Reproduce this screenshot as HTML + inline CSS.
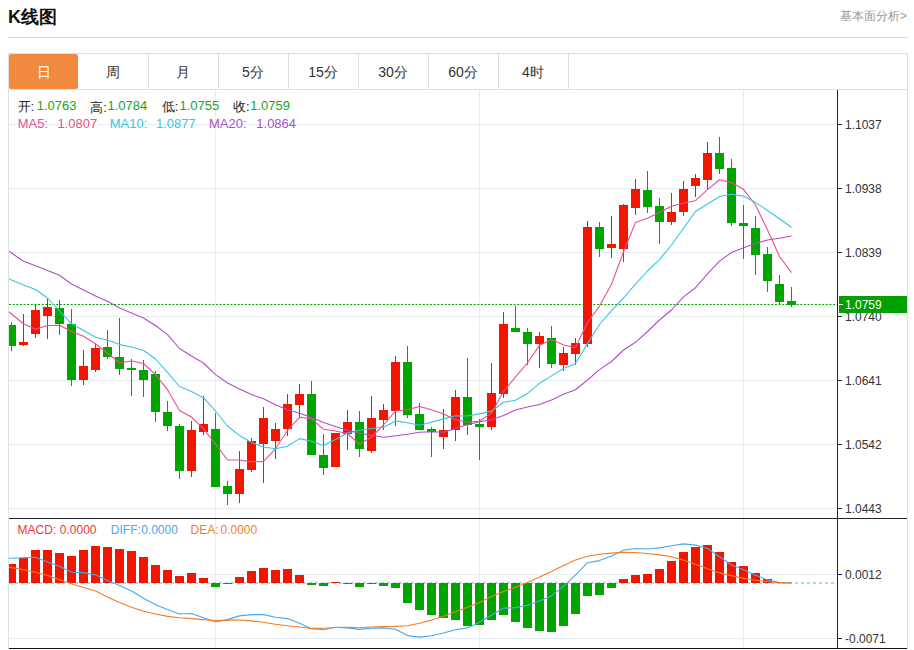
<!DOCTYPE html>
<html><head><meta charset="utf-8"><style>
html,body{margin:0;padding:0;background:#fff;}
body{width:914px;height:650px;position:relative;overflow:hidden;font-family:"Liberation Sans",sans-serif;}
.title{position:absolute;left:8px;top:5px;font-size:18px;font-weight:bold;color:#111;line-height:24px;}
.more{position:absolute;right:7px;top:7px;font-size:12px;color:#999;line-height:18px;}
.sep{position:absolute;left:8px;top:37px;width:900px;height:1px;background:#d9d9d9;}
.box{position:absolute;left:8px;top:53px;width:898px;height:595px;border:1px solid #e0e0e0;border-bottom:none;box-sizing:content-box;}
.tabs{position:absolute;left:8px;top:53px;height:36px;width:900px;border-bottom:1px solid #e0e0e0;}
.tab{position:absolute;top:0;width:71px;height:36px;line-height:38px;text-align:center;font-size:14px;color:#333;border-right:1px solid #e0e0e0;box-sizing:border-box;}
.tab.on{background:#f18a3f;color:#fff;border-radius:2px;top:1px;left:1px;height:35px;width:69px;border:none;line-height:36px;}
.ax{font-family:"Liberation Sans",sans-serif;font-size:12px;fill:#333;}
.lg{position:absolute;line-height:1;white-space:nowrap;}
</style></head><body>
<div class="title">K线图</div>
<div class="more">基本面分析&gt;</div>
<div class="sep"></div>
<div class="box"></div>
<svg width="914" height="650" style="position:absolute;left:0;top:0"><defs><clipPath id="clipMain"><rect x="9" y="90" width="828" height="558"/></clipPath></defs><rect x="9" y="124" width="828" height="1" fill="#e4ecf4"/><rect x="9" y="188" width="828" height="1" fill="#e4ecf4"/><rect x="9" y="252" width="828" height="1" fill="#e4ecf4"/><rect x="9" y="316" width="828" height="1" fill="#e4ecf4"/><rect x="9" y="380" width="828" height="1" fill="#e4ecf4"/><rect x="9" y="444" width="828" height="1" fill="#e4ecf4"/><rect x="9" y="508" width="828" height="1" fill="#e4ecf4"/><rect x="9" y="574" width="828" height="1" fill="#e4ecf4"/><rect x="9" y="638" width="828" height="1" fill="#e4ecf4"/><rect x="215" y="90" width="1" height="558" fill="#e4ecf4"/><rect x="479" y="90" width="1" height="558" fill="#e4ecf4"/><rect x="743" y="90" width="1" height="558" fill="#e4ecf4"/><line x1="9" y1="304.5" x2="837" y2="304.5" stroke="#00a000" stroke-width="1" stroke-dasharray="2,1.63"/><line x1="9" y1="583" x2="837" y2="583" stroke="#a8d8f0" stroke-width="2" stroke-dasharray="3,3"/><g shape-rendering="crispEdges" clip-path="url(#clipMain)"><rect x="11" y="322" width="1" height="29" fill="#00a500"/><rect x="7" y="325" width="9" height="21" fill="#00a500"/><rect x="23" y="314" width="1" height="32" fill="#f11600"/><rect x="19" y="342" width="9" height="3" fill="#f11600"/><rect x="35" y="304" width="1" height="34" fill="#f11600"/><rect x="31" y="310" width="9" height="24" fill="#f11600"/><rect x="47" y="299" width="1" height="40" fill="#f11600"/><rect x="43" y="307" width="9" height="9" fill="#f11600"/><rect x="59" y="300" width="1" height="35" fill="#00a500"/><rect x="55" y="308" width="9" height="16" fill="#00a500"/><rect x="71" y="309" width="1" height="77" fill="#00a500"/><rect x="67" y="324" width="9" height="56" fill="#00a500"/><rect x="83" y="350" width="1" height="35" fill="#f11600"/><rect x="79" y="366" width="9" height="14" fill="#f11600"/><rect x="95" y="343" width="1" height="29" fill="#f11600"/><rect x="91" y="348" width="9" height="22" fill="#f11600"/><rect x="107" y="330" width="1" height="29" fill="#00a500"/><rect x="103" y="347" width="9" height="10" fill="#00a500"/><rect x="119" y="318" width="1" height="57" fill="#00a500"/><rect x="115" y="357" width="9" height="12" fill="#00a500"/><rect x="131" y="359" width="1" height="37" fill="#00a500"/><rect x="127" y="368" width="9" height="2" fill="#00a500"/><rect x="143" y="360" width="1" height="37" fill="#00a500"/><rect x="139" y="370" width="9" height="10" fill="#00a500"/><rect x="155" y="371" width="1" height="51" fill="#00a500"/><rect x="151" y="374" width="9" height="38" fill="#00a500"/><rect x="167" y="401" width="1" height="30" fill="#00a500"/><rect x="163" y="412" width="9" height="14" fill="#00a500"/><rect x="179" y="424" width="1" height="55" fill="#00a500"/><rect x="175" y="426" width="9" height="45" fill="#00a500"/><rect x="191" y="421" width="1" height="56" fill="#f11600"/><rect x="187" y="430" width="9" height="41" fill="#f11600"/><rect x="203" y="396" width="1" height="39" fill="#f11600"/><rect x="199" y="424" width="9" height="8" fill="#f11600"/><rect x="215" y="413" width="1" height="74" fill="#00a500"/><rect x="211" y="429" width="9" height="58" fill="#00a500"/><rect x="227" y="481" width="1" height="24" fill="#00a500"/><rect x="223" y="486" width="9" height="8" fill="#00a500"/><rect x="239" y="451" width="1" height="52" fill="#f11600"/><rect x="235" y="469" width="9" height="25" fill="#f11600"/><rect x="251" y="438" width="1" height="34" fill="#f11600"/><rect x="247" y="441" width="9" height="29" fill="#f11600"/><rect x="263" y="407" width="1" height="76" fill="#f11600"/><rect x="259" y="418" width="9" height="26" fill="#f11600"/><rect x="275" y="423" width="1" height="36" fill="#f11600"/><rect x="271" y="429" width="9" height="12" fill="#f11600"/><rect x="287" y="394" width="1" height="42" fill="#f11600"/><rect x="283" y="404" width="9" height="25" fill="#f11600"/><rect x="299" y="384" width="1" height="33" fill="#f11600"/><rect x="295" y="394" width="9" height="11" fill="#f11600"/><rect x="311" y="381" width="1" height="74" fill="#00a500"/><rect x="307" y="394" width="9" height="61" fill="#00a500"/><rect x="323" y="434" width="1" height="41" fill="#00a500"/><rect x="319" y="455" width="9" height="13" fill="#00a500"/><rect x="335" y="433" width="1" height="34" fill="#f11600"/><rect x="331" y="433" width="9" height="34" fill="#f11600"/><rect x="347" y="410" width="1" height="40" fill="#f11600"/><rect x="343" y="422" width="9" height="12" fill="#f11600"/><rect x="359" y="411" width="1" height="46" fill="#00a500"/><rect x="355" y="422" width="9" height="27" fill="#00a500"/><rect x="371" y="396" width="1" height="57" fill="#f11600"/><rect x="367" y="418" width="9" height="33" fill="#f11600"/><rect x="383" y="404" width="1" height="26" fill="#f11600"/><rect x="379" y="410" width="9" height="10" fill="#f11600"/><rect x="395" y="356" width="1" height="70" fill="#f11600"/><rect x="391" y="362" width="9" height="49" fill="#f11600"/><rect x="407" y="346" width="1" height="72" fill="#00a500"/><rect x="403" y="362" width="9" height="53" fill="#00a500"/><rect x="419" y="403" width="1" height="27" fill="#00a500"/><rect x="415" y="414" width="9" height="16" fill="#00a500"/><rect x="431" y="427" width="1" height="30" fill="#00a500"/><rect x="427" y="429" width="9" height="3" fill="#00a500"/><rect x="443" y="409" width="1" height="40" fill="#f11600"/><rect x="439" y="430" width="9" height="7" fill="#f11600"/><rect x="455" y="390" width="1" height="51" fill="#f11600"/><rect x="451" y="397" width="9" height="33" fill="#f11600"/><rect x="467" y="358" width="1" height="77" fill="#00a500"/><rect x="463" y="397" width="9" height="28" fill="#00a500"/><rect x="479" y="419" width="1" height="41" fill="#00a500"/><rect x="475" y="424" width="9" height="3" fill="#00a500"/><rect x="491" y="363" width="1" height="67" fill="#f11600"/><rect x="487" y="393" width="9" height="34" fill="#f11600"/><rect x="503" y="312" width="1" height="86" fill="#f11600"/><rect x="499" y="324" width="9" height="70" fill="#f11600"/><rect x="515" y="306" width="1" height="26" fill="#00a500"/><rect x="511" y="328" width="9" height="4" fill="#00a500"/><rect x="527" y="328" width="1" height="37" fill="#00a500"/><rect x="523" y="332" width="9" height="12" fill="#00a500"/><rect x="539" y="332" width="1" height="36" fill="#f11600"/><rect x="535" y="336" width="9" height="8" fill="#f11600"/><rect x="551" y="326" width="1" height="42" fill="#00a500"/><rect x="547" y="338" width="9" height="26" fill="#00a500"/><rect x="563" y="347" width="1" height="24" fill="#f11600"/><rect x="559" y="353" width="9" height="12" fill="#f11600"/><rect x="575" y="338" width="1" height="27" fill="#f11600"/><rect x="571" y="343" width="9" height="11" fill="#f11600"/><rect x="587" y="221" width="1" height="126" fill="#f11600"/><rect x="583" y="227" width="9" height="117" fill="#f11600"/><rect x="599" y="222" width="1" height="35" fill="#00a500"/><rect x="595" y="227" width="9" height="22" fill="#00a500"/><rect x="611" y="216" width="1" height="42" fill="#f11600"/><rect x="607" y="244" width="9" height="4" fill="#f11600"/><rect x="623" y="204" width="1" height="58" fill="#f11600"/><rect x="619" y="205" width="9" height="44" fill="#f11600"/><rect x="635" y="179" width="1" height="36" fill="#f11600"/><rect x="631" y="189" width="9" height="19" fill="#f11600"/><rect x="647" y="171" width="1" height="42" fill="#00a500"/><rect x="643" y="190" width="9" height="17" fill="#00a500"/><rect x="659" y="198" width="1" height="46" fill="#00a500"/><rect x="655" y="206" width="9" height="16" fill="#00a500"/><rect x="671" y="193" width="1" height="32" fill="#f11600"/><rect x="667" y="212" width="9" height="10" fill="#f11600"/><rect x="683" y="181" width="1" height="35" fill="#f11600"/><rect x="679" y="189" width="9" height="23" fill="#f11600"/><rect x="695" y="174" width="1" height="23" fill="#f11600"/><rect x="691" y="178" width="9" height="8" fill="#f11600"/><rect x="707" y="142" width="1" height="48" fill="#f11600"/><rect x="703" y="153" width="9" height="27" fill="#f11600"/><rect x="719" y="137" width="1" height="37" fill="#00a500"/><rect x="715" y="153" width="9" height="16" fill="#00a500"/><rect x="731" y="159" width="1" height="67" fill="#00a500"/><rect x="727" y="168" width="9" height="55" fill="#00a500"/><rect x="743" y="205" width="1" height="54" fill="#00a500"/><rect x="739" y="223" width="9" height="3" fill="#00a500"/><rect x="755" y="216" width="1" height="59" fill="#00a500"/><rect x="751" y="228" width="9" height="27" fill="#00a500"/><rect x="767" y="247" width="1" height="45" fill="#00a500"/><rect x="763" y="254" width="9" height="27" fill="#00a500"/><rect x="779" y="275" width="1" height="29" fill="#00a500"/><rect x="775" y="284" width="9" height="18" fill="#00a500"/><rect x="791" y="287" width="1" height="20" fill="#00a500"/><rect x="787" y="301" width="9" height="4" fill="#00a500"/></g><g shape-rendering="crispEdges" clip-path="url(#clipMain)"><rect x="7" y="564" width="9" height="19" fill="#f11600"/><rect x="19" y="558" width="9" height="25" fill="#f11600"/><rect x="31" y="550" width="9" height="33" fill="#f11600"/><rect x="43" y="550" width="9" height="33" fill="#f11600"/><rect x="55" y="553" width="9" height="30" fill="#f11600"/><rect x="67" y="556" width="9" height="27" fill="#f11600"/><rect x="79" y="550" width="9" height="33" fill="#f11600"/><rect x="91" y="546" width="9" height="37" fill="#f11600"/><rect x="103" y="547" width="9" height="36" fill="#f11600"/><rect x="115" y="549" width="9" height="34" fill="#f11600"/><rect x="127" y="551" width="9" height="32" fill="#f11600"/><rect x="139" y="557" width="9" height="26" fill="#f11600"/><rect x="151" y="565" width="9" height="18" fill="#f11600"/><rect x="163" y="570" width="9" height="13" fill="#f11600"/><rect x="175" y="576" width="9" height="7" fill="#f11600"/><rect x="187" y="573" width="9" height="10" fill="#f11600"/><rect x="199" y="578" width="9" height="5" fill="#f11600"/><rect x="211" y="583" width="9" height="4" fill="#00a500"/><rect x="223" y="583" width="9" height="1" fill="#00a500"/><rect x="235" y="577" width="9" height="6" fill="#f11600"/><rect x="247" y="571" width="9" height="12" fill="#f11600"/><rect x="259" y="568" width="9" height="15" fill="#f11600"/><rect x="271" y="570" width="9" height="13" fill="#f11600"/><rect x="283" y="569" width="9" height="14" fill="#f11600"/><rect x="295" y="575" width="9" height="8" fill="#f11600"/><rect x="307" y="583" width="9" height="2" fill="#00a500"/><rect x="319" y="583" width="9" height="3" fill="#00a500"/><rect x="331" y="582" width="9" height="1" fill="#f11600"/><rect x="343" y="583" width="9" height="1" fill="#00a500"/><rect x="355" y="583" width="9" height="4" fill="#00a500"/><rect x="367" y="583" width="9" height="1" fill="#00a500"/><rect x="379" y="583" width="9" height="3" fill="#00a500"/><rect x="391" y="583" width="9" height="5" fill="#00a500"/><rect x="403" y="583" width="9" height="20" fill="#00a500"/><rect x="415" y="583" width="9" height="27" fill="#00a500"/><rect x="427" y="583" width="9" height="32" fill="#00a500"/><rect x="439" y="583" width="9" height="35" fill="#00a500"/><rect x="451" y="583" width="9" height="37" fill="#00a500"/><rect x="463" y="583" width="9" height="43" fill="#00a500"/><rect x="475" y="583" width="9" height="42" fill="#00a500"/><rect x="487" y="583" width="9" height="37" fill="#00a500"/><rect x="499" y="583" width="9" height="32" fill="#00a500"/><rect x="511" y="583" width="9" height="39" fill="#00a500"/><rect x="523" y="583" width="9" height="45" fill="#00a500"/><rect x="535" y="583" width="9" height="48" fill="#00a500"/><rect x="547" y="583" width="9" height="49" fill="#00a500"/><rect x="559" y="583" width="9" height="43" fill="#00a500"/><rect x="571" y="583" width="9" height="31" fill="#00a500"/><rect x="583" y="583" width="9" height="13" fill="#00a500"/><rect x="595" y="583" width="9" height="12" fill="#00a500"/><rect x="607" y="583" width="9" height="5" fill="#00a500"/><rect x="619" y="579" width="9" height="4" fill="#f11600"/><rect x="631" y="575" width="9" height="8" fill="#f11600"/><rect x="643" y="574" width="9" height="9" fill="#f11600"/><rect x="655" y="569" width="9" height="14" fill="#f11600"/><rect x="667" y="561" width="9" height="22" fill="#f11600"/><rect x="679" y="552" width="9" height="31" fill="#f11600"/><rect x="691" y="547" width="9" height="36" fill="#f11600"/><rect x="703" y="545" width="9" height="38" fill="#f11600"/><rect x="715" y="552" width="9" height="31" fill="#f11600"/><rect x="727" y="562" width="9" height="21" fill="#f11600"/><rect x="739" y="566" width="9" height="17" fill="#f11600"/><rect x="751" y="573" width="9" height="10" fill="#f11600"/><rect x="763" y="579" width="9" height="4" fill="#f11600"/><rect x="775" y="582" width="9" height="1" fill="#f11600"/></g><g clip-path="url(#clipMain)"><polyline points="-0.5,304 11.5,314 23.5,323.8 35.5,329.3 47.5,325.5 59.5,325.3 71.5,331.6 83.5,336.3 95.5,343.7 107.5,353 119.5,363 131.5,361 143.5,363.5 155.5,374.6 167.5,389.7 179.5,410.5 191.5,417 203.5,428.8 215.5,444 227.5,460 239.5,460 251.5,461.9 263.5,461.4 275.5,448.8 287.5,430.5 299.5,417.3 311.5,418.7 323.5,429.3 335.5,431 347.5,433.5 359.5,444.3 371.5,437 383.5,425 395.5,411 407.5,409.8 419.5,406.5 431.5,409.8 443.5,413.9 455.5,419.8 467.5,422.2 479.5,421.3 491.5,413 503.5,391.6 515.5,376.8 527.5,363 539.5,345.4 551.5,339.5 563.5,345 575.5,347.6 587.5,322.5 599.5,306.1 611.5,284.2 623.5,252 635.5,222.4 647.5,218.2 659.5,212.6 671.5,206.2 683.5,203 695.5,200.7 707.5,189.6 719.5,179.8 731.5,182.6 743.5,189.3 755.5,205 767.5,230 779.5,256.5 791.5,272.6" fill="none" stroke="#e9508b" stroke-width="1.1" stroke-linejoin="round"/><polyline points="-0.5,274 11.5,280 23.5,285 35.5,289.5 47.5,298 59.5,311 71.5,323.6 83.5,330.6 95.5,337.2 107.5,340 119.5,344.6 131.5,347 143.5,350.3 155.5,359 167.5,372.3 179.5,386.5 191.5,391.5 203.5,397.7 215.5,411 227.5,426 239.5,435.6 251.5,442.4 263.5,447 275.5,448.8 287.5,446.3 299.5,438.6 311.5,441.2 323.5,445.4 335.5,439.5 347.5,433 359.5,430.2 371.5,428.5 383.5,427.2 395.5,420.9 407.5,422.7 419.5,425.3 431.5,422.2 443.5,418.9 455.5,415.7 467.5,416 479.5,413.9 491.5,411.1 503.5,402.3 515.5,400.2 527.5,393.4 539.5,383.3 551.5,375.9 563.5,368.5 575.5,363.5 587.5,343.6 599.5,324.5 611.5,310.7 623.5,298 635.5,284.2 647.5,271 659.5,259.6 671.5,245 683.5,228.3 695.5,211.5 707.5,204 719.5,196.5 731.5,194.3 743.5,196.1 755.5,202.6 767.5,210.5 779.5,218.8 791.5,227.5" fill="none" stroke="#3ac4e2" stroke-width="1.1" stroke-linejoin="round"/><polyline points="-0.5,245 11.5,253 23.5,261.2 35.5,265.8 47.5,270.4 59.5,275.3 71.5,284 83.5,290 95.5,296 107.5,301.2 119.5,308 131.5,313 143.5,318 155.5,325.5 167.5,334.6 179.5,348.5 191.5,356 203.5,363 215.5,374.6 227.5,383 239.5,389 251.5,394.6 263.5,398.8 275.5,404.7 287.5,409.8 299.5,413.2 311.5,417.5 323.5,422.5 335.5,426.4 347.5,430.2 359.5,433.2 371.5,435.2 383.5,437.3 395.5,435.7 407.5,434.2 419.5,432.3 431.5,431.8 443.5,432.3 455.5,428.6 467.5,424.6 479.5,421.8 491.5,419.8 503.5,415.5 515.5,410 527.5,407 539.5,404.5 551.5,400 563.5,394.3 575.5,389.7 587.5,380 599.5,369.6 611.5,361.5 623.5,350 635.5,342.3 647.5,331.5 659.5,320 671.5,310 683.5,296.9 695.5,287.7 707.5,273.8 719.5,261.1 731.5,252.5 743.5,247.7 755.5,243.6 767.5,240 779.5,238.3 791.5,236" fill="none" stroke="#b04ec8" stroke-width="1.1" stroke-linejoin="round"/><polyline points="-0.5,558 11.5,558.3 23.5,557.7 35.5,557.2 47.5,562 59.5,566.2 71.5,572.3 83.5,572.6 95.5,574.7 107.5,580.4 119.5,585.4 131.5,591 143.5,598.3 155.5,604.8 167.5,609.4 179.5,614 191.5,613.5 203.5,617.7 215.5,622 227.5,619.6 239.5,615.9 251.5,614.6 263.5,614.6 275.5,617.3 287.5,618.6 299.5,623.3 311.5,628.8 323.5,629.7 335.5,627.3 347.5,627.9 359.5,629.4 371.5,628.2 383.5,627.9 395.5,629.2 407.5,635.6 419.5,637.1 431.5,635.8 443.5,633 455.5,629.7 467.5,627.9 479.5,622.3 491.5,615 503.5,608.1 515.5,607.6 527.5,605.3 539.5,601.1 551.5,595.9 563.5,586.3 575.5,575.2 587.5,562.7 599.5,560.6 611.5,555.9 623.5,550.3 635.5,548.5 647.5,549 659.5,547.9 671.5,545.7 683.5,543.9 695.5,545.1 707.5,548.5 719.5,556.8 731.5,565 743.5,569.7 755.5,575.2 767.5,579.9 779.5,582.6 791.5,583" fill="none" stroke="#4ca7ef" stroke-width="1.1" stroke-linejoin="round"/><polyline points="-0.5,566 11.5,567.6 23.5,569.8 35.5,572.2 47.5,575.5 59.5,579.7 71.5,583.7 83.5,587.5 95.5,591 107.5,597 119.5,602.5 131.5,607.2 143.5,611.3 155.5,614 167.5,616.4 179.5,617.7 191.5,618.6 203.5,619.6 215.5,620.5 227.5,620.1 239.5,620 251.5,620.9 263.5,622.3 275.5,624.2 287.5,625.7 299.5,627 311.5,628.4 323.5,628.2 335.5,627.5 347.5,627.3 359.5,627.7 371.5,627 383.5,626.6 395.5,626.4 407.5,625.7 419.5,623.3 431.5,620.1 443.5,616.2 455.5,611.8 467.5,607.2 479.5,602.6 491.5,596.5 503.5,591.5 515.5,587.2 527.5,582.6 539.5,577.1 551.5,571.6 563.5,565.6 575.5,560.1 587.5,556.2 599.5,554.2 611.5,553.1 623.5,552.2 635.5,552.5 647.5,553.5 659.5,554.9 671.5,556.8 683.5,560.1 695.5,564.2 707.5,568.8 719.5,572.9 731.5,575.6 743.5,578.4 755.5,580.2 767.5,581.7 779.5,582.6 791.5,583" fill="none" stroke="#f57d22" stroke-width="1.1" stroke-linejoin="round"/></g><rect x="837" y="90" width="1" height="558" fill="#222"/><rect x="9" y="518" width="898" height="1" fill="#222"/><rect x="9" y="648" width="898" height="1" fill="#111"/><rect x="837" y="124" width="5" height="1" fill="#222"/><text x="845" y="128.5" class="ax">1.1037</text><rect x="837" y="188" width="5" height="1" fill="#222"/><text x="845" y="192.5" class="ax">1.0938</text><rect x="837" y="252" width="5" height="1" fill="#222"/><text x="845" y="256.5" class="ax">1.0839</text><rect x="837" y="316" width="5" height="1" fill="#222"/><text x="845" y="320.5" class="ax">1.0740</text><rect x="837" y="380" width="5" height="1" fill="#222"/><text x="845" y="384.5" class="ax">1.0641</text><rect x="837" y="444" width="5" height="1" fill="#222"/><text x="845" y="448.5" class="ax">1.0542</text><rect x="837" y="508" width="5" height="1" fill="#222"/><text x="845" y="512.5" class="ax">1.0443</text><rect x="837" y="574" width="5" height="1" fill="#222"/><text x="845" y="578.5" class="ax">0.0012</text><rect x="837" y="638" width="5" height="1" fill="#222"/><text x="845" y="642.5" class="ax">-0.0071</text><rect x="839" y="296" width="68" height="17" fill="#00a000"/><rect x="839" y="304" width="4" height="1" fill="#fff"/><text x="845" y="308.5" class="ax" fill="#fff" style="fill:#fff">1.0759</text></svg>
<div class="tabs">
<div class="tab on" style="left:1px">日</div>
<div class="tab" style="left:70px">周</div>
<div class="tab" style="left:140px">月</div>
<div class="tab" style="left:210px">5分</div>
<div class="tab" style="left:280px">15分</div>
<div class="tab" style="left:350px">30分</div>
<div class="tab" style="left:420px">60分</div>
<div class="tab" style="left:490px">4时</div>
</div>
<div class="lg" id="lg0" style="left:17.5px;top:99.6px;color:#222;font-size:13px">开:</div><div class="lg" id="lg1" style="left:36.7px;top:99.2px;color:#1ba51b;font-size:13px">1.0763</div><div class="lg" id="lg2" style="left:90.2px;top:100.6px;color:#222;font-size:13px">高:</div><div class="lg" id="lg3" style="left:107.5px;top:99.2px;color:#1ba51b;font-size:13px">1.0784</div><div class="lg" id="lg4" style="left:161.7px;top:99.6px;color:#222;font-size:13px">低:</div><div class="lg" id="lg5" style="left:179.5px;top:99.2px;color:#1ba51b;font-size:13px">1.0755</div><div class="lg" id="lg6" style="left:233.0px;top:99.6px;color:#222;font-size:13px">收:</div><div class="lg" id="lg7" style="left:250.2px;top:99.2px;color:#1ba51b;font-size:13px">1.0759</div><div class="lg" id="lg8" style="left:17.7px;top:117.3px;color:#e9508b;font-size:13px">MA5:</div><div class="lg" id="lg9" style="left:57.4px;top:117.3px;color:#e9508b;font-size:13px">1.0807</div><div class="lg" id="lg10" style="left:109.7px;top:117.3px;color:#3ac4e2;font-size:13px">MA10:</div><div class="lg" id="lg11" style="left:155.9px;top:117.3px;color:#3ac4e2;font-size:13px">1.0877</div><div class="lg" id="lg12" style="left:209.0px;top:117.3px;color:#b04ec8;font-size:13px">MA20:</div><div class="lg" id="lg13" style="left:256.3px;top:117.3px;color:#b04ec8;font-size:13px">1.0864</div><div class="lg" id="lg14" style="left:17.5px;top:524.0px;color:#e63a36;font-size:12px">MACD:</div><div class="lg" id="lg15" style="left:59.8px;top:524.0px;color:#e63a36;font-size:12px">0.0000</div><div class="lg" id="lg16" style="left:110.8px;top:524.0px;color:#4ca7ef;font-size:12px">DIFF:</div><div class="lg" id="lg17" style="left:141.2px;top:524.0px;color:#4ca7ef;font-size:12px">0.0000</div><div class="lg" id="lg18" style="left:190.6px;top:524.0px;color:#f57d22;font-size:12px">DEA:</div><div class="lg" id="lg19" style="left:220.5px;top:524.0px;color:#f57d22;font-size:12px">0.0000</div>
</body></html>
